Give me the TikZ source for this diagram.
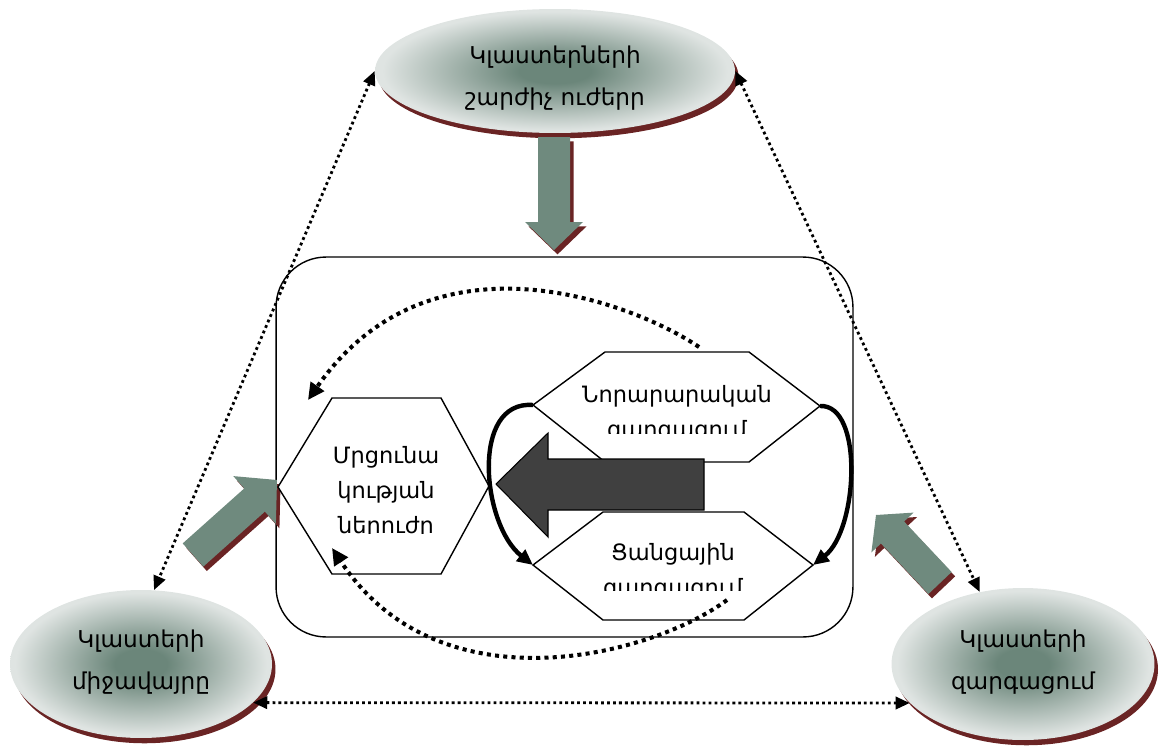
\documentclass[tikz,border=0pt]{standalone}
\usepackage{fontspec}
\setmainfont{DejaVu Sans}
\usetikzlibrary{arrows.meta,shapes.geometric,shadows,positioning}

\definecolor{arrowgreen}{HTML}{6F8A7E}
\definecolor{shadowred}{HTML}{6A2424}
\definecolor{elldark}{HTML}{6B867A}
\definecolor{elllight}{HTML}{DFE4E2}
\definecolor{coregray}{HTML}{404040}
\pgfdeclareradialshading{clustershade}{\pgfpoint{0bp}{0bp}}{color(0bp)=(elldark); color(5bp)=(elldark); color(24bp)=(elllight); color(50bp)=(elllight)}

\tikzset{
  cluster/.style={ellipse,inner sep=0pt,shading=clustershade,
    drop shadow={fill=shadowred,opacity=1,shadow xshift=2pt,shadow yshift=-3pt}},
  clustertext/.style={align=center,inner sep=0pt,font=\fontsize{13.2}{23.5}\selectfont},
  greenblock/.style={fill=arrowgreen,
    drop shadow={fill=shadowred,opacity=1,shadow xshift=2pt,shadow yshift=-2.5pt}},
  hexa/.style={draw,fill=white,line width=0.8pt},
  hextext/.style={align=center,inner sep=0pt,font=\fontsize{12.8}{20}\selectfont},
  linkline/.style={line width=1.6pt,dash pattern=on 1.6pt off 1.8pt,
    {Triangle[length=8pt,width=7pt]}-{Triangle[length=8pt,width=7pt]}},
  dotarc/.style={line width=2.3pt,dash pattern=on 2.3pt off 2.4pt,
    -{Triangle[length=9.5pt,width=9pt]}},
  loopline/.style={line width=2.5pt,-{Triangle[length=9pt,width=8pt]}}
}

\begin{document}
\begin{tikzpicture}[x=0.02cm,y=-0.02cm]
\useasboundingbox (0,0) rectangle (1165,750);

% frame round the core
\node[draw,line width=0.8pt,rounded corners=1cm,minimum width=11.54cm,
  minimum height=7.6cm] (core) at (564.5,447) {};

% the three cluster ellipses
\node[cluster,minimum width=7.2cm,minimum height=2.48cm] (drivers) at (555,71) {};
\node[cluster,minimum width=5.24cm,minimum height=2.96cm] (milieu) at (141,664) {};
\node[cluster,minimum width=5.26cm,minimum height=3.04cm] (growth) at (1023,664) {};
\node[clustertext] (driverslbl) at (555,78) {Կլաստերների\\շարժիչ ուժերր};
\node[clustertext] (milieulbl) at (141,662) {Կլաստերի\\միջավայրը};
\node[clustertext] (growthlbl) at (1023,662) {Կլաստերի\\զարգացում};

% green block arrows
\path[greenblock] (538,137) -- (538,222) -- (525,222) -- (554,250)
  -- (583,222) -- (570,222) -- (570,137) -- cycle;
\path[greenblock] (182.7,543.4) -- (244.3,488.4) -- (233.3,476.1) -- (277,480)
  -- (275.9,523.9) -- (264.9,511.6) -- (203.3,566.6) -- cycle;
\path[greenblock] (928.4,594) -- (880.9,543.5) -- (871.4,552.4) -- (876,515)
  -- (913.6,512.6) -- (904.1,521.5) -- (951.6,572) -- cycle;

% hexagons
\draw[hexa] (533,405) coordinate (innW) -- (605,352) -- (749,352)
  -- (820,406) coordinate (innE) -- (749,462) -- (605,462) -- cycle;
\draw[hexa] (533,565) coordinate (netW) -- (603,512) -- (744,512)
  -- (813,565) coordinate (netE) -- (744,620) -- (603,620) -- cycle;
\draw[hexa] (278,487) coordinate (rivW) -- (332,398) -- (441,398)
  -- (489,486) coordinate (rivE) -- (441,574) -- (332,574) -- cycle;

\begin{scope}
  \clip (560,360) rectangle (800,433);
  \node[hextext] (innlbl) at (677,414) {Նորարարական\\զարգացում};
\end{scope}
\begin{scope}
  \clip (560,520) rectangle (800,590);
  \node[hextext] (netlbl) at (673,572) {Ցանցային\\զարգացում};
\end{scope}
\begin{scope}
  \clip (300,420) rectangle (470,533);
  \node[hextext] (rivlbl) at (386,492) {Մրցունա\\կության\\ներուժը};
\end{scope}

% big arrow into the left hexagon
\draw[fill=coregray,line width=0.6pt] (704,459) -- (548,459) -- (548,433)
  -- (496,484) -- (548,537) -- (548,510) -- (704,510) -- cycle;

\draw[loopline] (innW) .. controls (470,400) and (482,525) .. (netW);
\draw[loopline] (innE) .. controls (864,404) and (858,530) .. (netE);

\coordinate (arcA) at (699,347);
\coordinate (arcB) at (308,400);
\coordinate (arcC) at (727,600);
\coordinate (arcD) at (332,548);
\draw[dotarc] (arcA) .. controls (636,304) and (431,223) .. (arcB);
\draw[dotarc] (arcC) .. controls (653,655) and (440,712) .. (arcD);

% links between the clusters
\draw[linkline] (drivers.west) -- (milieu.80);
\draw[linkline] (drivers.east) -- (growth.121);
\draw[linkline] (milieu.-19) -- (growth.-161);
\end{tikzpicture}
\end{document}
